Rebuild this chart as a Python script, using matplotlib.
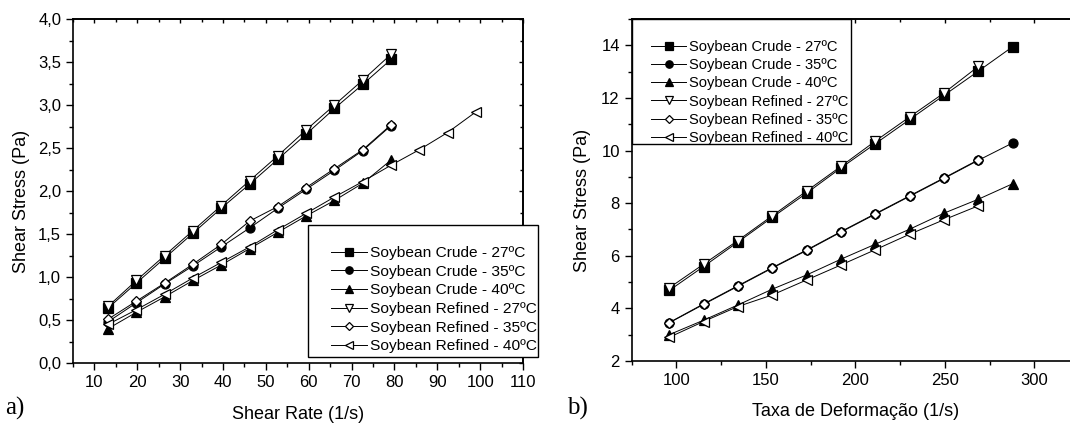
import matplotlib
matplotlib.use("Agg")
import matplotlib.pyplot as plt
from matplotlib.patches import Rectangle
from matplotlib.ticker import MultipleLocator, FuncFormatter

plt.rcParams['font.family'] = ['Liberation Sans', 'DejaVu Sans']

# --- data ---
labels = ["Soybean Crude - 27ºC", "Soybean Crude - 35ºC", "Soybean Crude - 40ºC",
          "Soybean Refined - 27ºC", "Soybean Refined - 35ºC", "Soybean Refined - 40ºC"]
markers = ["s", "o", "^", "v", "D", "<"]
filled = [True, True, True, False, False, False]

# a) shear rate (1/s)
rate_a = [13.2, 19.8, 26.4, 33.0, 39.6, 46.2, 52.8, 59.4, 66.0, 72.6, 79.2]
rate_a_long = rate_a + [85.8, 92.4, 99.0]
crude27_a = [0.64, 0.93, 1.22, 1.51, 1.80, 2.08, 2.37, 2.66, 2.96, 3.24, 3.53]
crude35_a = [0.48, 0.70, 0.92, 1.13, 1.35, 1.57, 1.80, 2.02, 2.24, 2.47, 2.76]
crude40_a = [0.40, 0.59, 0.77, 0.96, 1.14, 1.33, 1.52, 1.71, 1.89, 2.09, 2.36]
refined27_a = [0.66, 0.96, 1.25, 1.54, 1.83, 2.12, 2.41, 2.71, 3.00, 3.29, 3.59]
refined35_a = [0.51, 0.72, 0.93, 1.15, 1.38, 1.65, 1.82, 2.04, 2.26, 2.48, 2.77]
refined40_a = [0.45, 0.62, 0.80, 0.99, 1.17, 1.35, 1.55, 1.74, 1.93, 2.11, 2.30, 2.48, 2.68, 2.92]

# b) taxa de deformacao (1/s)
rate_b = [96.0, 115.2, 134.4, 153.6, 172.8, 192.0, 211.2, 230.4, 249.6, 268.8, 288.0]
crude27_b = [4.68, 5.59, 6.52, 7.46, 8.38, 9.34, 10.26, 11.18, 12.10, 13.02, 13.95]
crude35_b = [3.45, 4.15, 4.84, 5.53, 6.20, 6.90, 7.58, 8.26, 8.94, 9.63, 10.29]
crude40_b = [3.00, 3.55, 4.13, 4.73, 5.27, 5.87, 6.44, 7.01, 7.62, 8.15, 8.74]
refined27_b = [4.78, 5.68, 6.58, 7.52, 8.46, 9.40, 10.36, 11.28, 12.19, 13.20]
refined35_b = [3.46, 4.17, 4.86, 5.55, 6.22, 6.92, 7.60, 8.28, 8.96, 9.65]
refined40_b = [2.90, 3.50, 4.07, 4.51, 5.08, 5.65, 6.23, 6.82, 7.37, 7.90]

series_a = [(rate_a, crude27_a), (rate_a, crude35_a), (rate_a, crude40_a),
            (rate_a, refined27_a), (rate_a, refined35_a), (rate_a_long, refined40_a)]
series_b = [(rate_b, crude27_b), (rate_b, crude35_b), (rate_b, crude40_b),
            (rate_b[:10], refined27_b), (rate_b[:10], refined35_b), (rate_b[:10], refined40_b)]

fig = plt.figure(figsize=(10.7, 4.23), dpi=100)
ax1 = fig.add_axes([0.0682, 0.1418, 0.4206, 0.8132])
ax2 = fig.add_axes([0.5903, 0.1466, 0.4181, 0.8085])


def draw(ax, series):
    for (x, y), m, f, lab in zip(series, markers, filled, labels):
        ms = 5.5 if m == "D" else 6.5
        ax.plot(x, y, color="black", lw=0.7, marker=m, ms=ms,
                mfc="black" if f else "white", mec="black", mew=0.9, label=lab)


def style(ax, xmaj, xmin, ymaj, ymin):
    for s in ax.spines.values():
        s.set_linewidth(1.2)
    ax.tick_params(which="both", direction="out", labelsize=12, width=1.0)
    ax.tick_params(which="major", length=5)
    ax.tick_params(which="minor", length=3)
    # mirrored short ticks on top and right, no labels
    top = ax.secondary_xaxis("top")
    top.set_xticks(xmaj)
    top.xaxis.set_minor_locator(MultipleLocator(xmin))
    top.tick_params(which="both", direction="in", labeltop=False, width=1.0)
    top.tick_params(which="major", length=3)
    top.tick_params(which="minor", length=2)
    right = ax.secondary_yaxis("right")
    right.set_yticks(ymaj)
    right.yaxis.set_minor_locator(MultipleLocator(ymin))
    right.tick_params(which="both", direction="in", labelright=False, width=1.0)
    right.tick_params(which="major", length=3)
    right.tick_params(which="minor", length=2)
    for sec in (top, right):
        for s in sec.spines.values():
            s.set_linewidth(1.2)


def legend_box(ax, anchor, fs, spacing, hlen, box):
    # legend entries without frame, framed by a square box in figure pixels
    handles, labs = ax.get_legend_handles_labels()
    leg = fig.legend(handles, labs, loc="upper left",
                     bbox_to_anchor=(anchor[0] / 1070, 1 - anchor[1] / 423),
                     bbox_transform=fig.transFigure, frameon=False, fontsize=fs,
                     handlelength=hlen, handletextpad=0.17, borderpad=0, borderaxespad=0,
                     labelspacing=spacing, markerscale=0.82)
    leg.set_zorder(6)
    x0, y0, x1, y1 = box
    rect = Rectangle((x0 / 1070, 1 - y1 / 423), (x1 - x0) / 1070, (y1 - y0) / 423,
                     transform=fig.transFigure, facecolor="white", edgecolor="black",
                     lw=1.0, zorder=5)
    fig.add_artist(rect)


draw(ax1, series_a)
ax1.set_xlim(5, 110)
ax1.set_ylim(0, 4.0)
xt1 = [10, 20, 30, 40, 50, 60, 70, 80, 90, 100, 110]
yt1 = [0, 0.5, 1.0, 1.5, 2.0, 2.5, 3.0, 3.5, 4.0]
ax1.set_xticks(xt1)
ax1.xaxis.set_minor_locator(MultipleLocator(5))
ax1.set_yticks(yt1)
ax1.yaxis.set_minor_locator(MultipleLocator(0.25))
ax1.yaxis.set_major_formatter(FuncFormatter(lambda v, p: f"{v:.1f}".replace(".", ",")))
style(ax1, xt1, 5, yt1, 0.25)
ax1.set_xlabel("Shear Rate (1/s)", fontsize=13)
ax1.set_ylabel("Shear Stress (Pa)", fontsize=13)
ax1.yaxis.set_label_coords(-0.095, 0.47)
ax1.xaxis.set_label_coords(0.5, -0.125)

draw(ax2, series_b)
ax2.set_xlim(75, 325)
ax2.set_ylim(2, 15)
xt2 = [100, 150, 200, 250, 300]
yt2 = [2, 4, 6, 8, 10, 12, 14]
ax2.set_xticks(xt2)
ax2.xaxis.set_minor_locator(MultipleLocator(25))
ax2.set_yticks(yt2)
ax2.yaxis.set_minor_locator(MultipleLocator(1))
style(ax2, xt2, 25, yt2, 1)
ax2.set_xlabel("Taxa de Deformação (1/s)", fontsize=13)
ax2.set_ylabel("Shear Stress (Pa)", fontsize=13)
ax2.yaxis.set_label_coords(-0.090, 0.47)
ax2.xaxis.set_label_coords(0.5, -0.123)

legend_box(ax1, (331, 246), 11.15, 0.30, 2.35, (308, 225, 538, 357))
legend_box(ax2, (651, 40), 10.6, 0.285, 2.4, (631.6, 19, 851, 144))

fig.text(0.005, 0.019, "a)", fontsize=18, family="Liberation Serif")
fig.text(0.530, 0.019, "b)", fontsize=18, family="Liberation Serif")

fig.savefig("out.png", dpi=100, facecolor="white")
